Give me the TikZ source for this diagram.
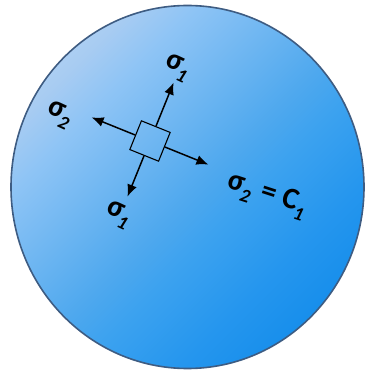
\documentclass[tikz,border=0pt]{standalone}
\usepackage{fontspec}
\setmainfont{Carlito}
\usetikzlibrary{arrows.meta}
\definecolor{rim}{HTML}{3E5C82}
\definecolor{ca}{HTML}{C2DDF8}
\definecolor{cb}{HTML}{A8CCF2}
\definecolor{cc}{HTML}{8EC4F5}
\definecolor{cd}{HTML}{4EA8EE}
\definecolor{ce}{HTML}{3CA2EF}
\definecolor{cf}{HTML}{2596EE}
\definecolor{cg}{HTML}{1A90EC}
\definecolor{ch}{HTML}{0686E6}
\pgfdeclareverticalshading{discshade}{100bp}{color(0bp)=(ch); color(14.6bp)=(ch); color(26.6bp)=(cg); color(33bp)=(cf); color(43bp)=(ce); color(48.6bp)=(cd); color(67bp)=(cc); color(73.4bp)=(cb); color(85.4bp)=(ca); color(100bp)=(ca)}
\tikzset{
  stressarrow/.style={line width=1.5pt,-{Latex[length=12pt,width=10pt]}},
  lbl/.style={font=\fontsize{30}{30}\selectfont\bfseries,inner sep=0pt},
  elem/.style={draw,line width=1.1pt,minimum size=31pt,inner sep=0pt,rotate=-22}
}
\newcommand{\sub}[1]{\raisebox{-9pt}{\fontsize{19}{19}\selectfont\itshape #1}}
\newcommand{\sig}[1]{σ\kern-1pt\sub{#1}}
\begin{document}
\begin{tikzpicture}[x=1pt,y=1pt]
\useasboundingbox (0,0) rectangle (365,370);
\shade[shading=discshade,shading angle=45]
  (187.5,183) ellipse [x radius=176.5,y radius=181.5];
\draw[rim,line width=1.6pt] (187.5,183) ellipse [x radius=176.5,y radius=181.5];
\node[elem] (sq) at (150,229) {};
\coordinate (tu) at (173.6,287.4);
\coordinate (td) at (127.5,173.4);
\coordinate (tl) at (91.6,252.6);
\coordinate (tr) at (208.4,205.4);
\draw[stressarrow] (sq.north) -- (tu);
\draw[stressarrow] (sq.south) -- (td);
\draw[stressarrow] (sq.west) -- (tl);
\draw[stressarrow] (sq.east) -- (tr);
\node[lbl,rotate=-25] (s1u) at (177,302) {\sig{1}};
\node[lbl,rotate=-25] (s2l) at (59,255) {\sig{2}};
\node[lbl,rotate=-25] (s1d) at (118,155) {\sig{1}};
\node[lbl,rotate=-18] (s2r) at (267,175) {\sig{2}\,\,= C\kern-1pt\sub{1}};
\end{tikzpicture}
\end{document}
